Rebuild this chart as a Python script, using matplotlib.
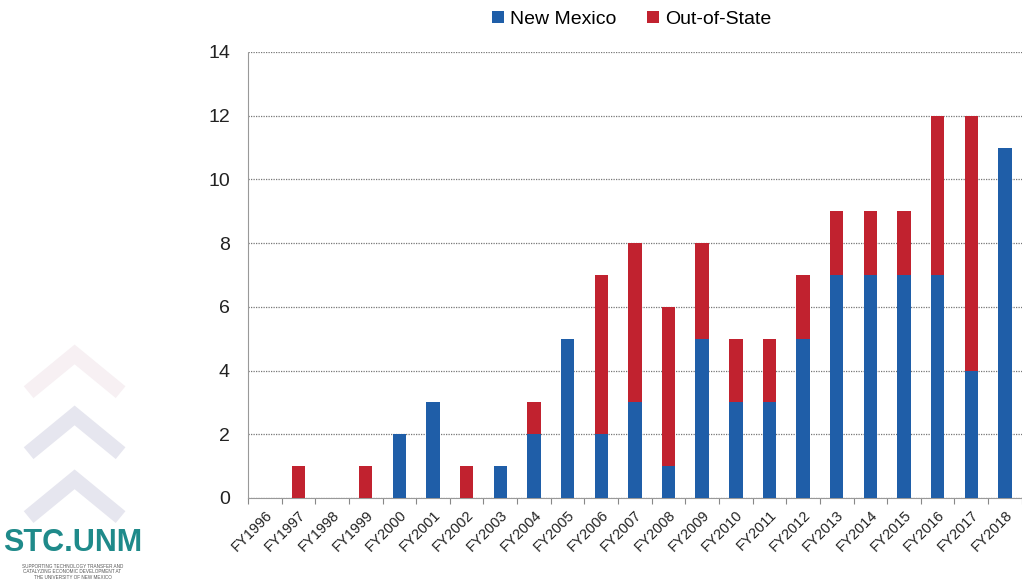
import matplotlib
matplotlib.use("Agg")
import matplotlib.pyplot as plt
import numpy as np

plt.rcParams['font.family'] = ['Liberation Sans', 'DejaVu Sans']

years = ["FY1996", "FY1997", "FY1998", "FY1999", "FY2000", "FY2001", "FY2002",
         "FY2003", "FY2004", "FY2005", "FY2006", "FY2007", "FY2008", "FY2009",
         "FY2010", "FY2011", "FY2012", "FY2013", "FY2014", "FY2015", "FY2016",
         "FY2017", "FY2018"]
new_mexico = [0, 0, 0, 0, 2, 3, 0, 1, 2, 5, 2, 3, 1, 5, 3, 3, 5, 7, 7, 7, 7, 4, 11]
out_of_state = [0, 1, 0, 1, 0, 0, 1, 0, 1, 0, 5, 5, 5, 3, 2, 2, 2, 2, 2, 2, 5, 8, 0]
y_ticks = [0, 2, 4, 6, 8, 10, 12, 14]

blue = "#1f5ea8"
red = "#c1222f"

fig = plt.figure(figsize=(10.22, 5.81), dpi=100)
ax = fig.add_axes([0.2427, 0.1429, 0.757, 0.7676])

x = np.arange(len(years))
ax.bar(x, new_mexico, width=0.4, color=blue, label="New Mexico", zorder=3)
ax.bar(x, out_of_state, width=0.4, bottom=new_mexico, color=red, label="Out-of-State", zorder=3)

ax.set_xlim(-0.5, len(years) - 0.5)
ax.set_ylim(0, 14)
ax.set_yticks(y_ticks)
ax.set_yticklabels([str(t) for t in y_ticks], fontsize=14, color="#222222")
ax.yaxis.grid(True, linestyle=(0, (1, 1)), color="#777777", linewidth=0.9, zorder=0)
ax.tick_params(axis='y', length=0, pad=13)

ax.set_xticks(np.arange(len(years) + 1) - 0.5, minor=True)
ax.set_xticks(x)
ax.set_xticklabels(years, rotation=45, ha='right', rotation_mode='anchor', fontsize=10.5, color="#222222")
ax.tick_params(axis='x', which='major', length=0, pad=7)
ax.tick_params(axis='x', which='minor', length=4, color="#888888", width=0.8)

for s in ['top', 'right']:
    ax.spines[s].set_visible(False)
ax.spines['left'].set_color("#999999")
ax.spines['left'].set_linestyle((0, (1, 1)))
ax.spines['bottom'].set_color("#999999")
ax.spines['bottom'].set_linestyle((0, (1, 1)))

leg = fig.legend(loc='upper center', bbox_to_anchor=(0.618, 1.012), ncol=2, frameon=False,
                 fontsize=14, handlelength=0.6, handleheight=0.6, handletextpad=0.3,
                 columnspacing=1.6)

# Logo decorations
for (cy, col) in [(0.39, "#f7f0f3"), (0.285, "#e6e6ef"), (0.175, "#e6e6ef")]:
    fig.lines.append(plt.Line2D([0.028, 0.073, 0.118], [cy - 0.065, cy, cy - 0.065],
                                transform=fig.transFigure, color=col, linewidth=11,
                                solid_capstyle='butt', solid_joinstyle='miter'))
fig.text(0.071, 0.065, "STC.UNM", fontsize=22, fontweight='bold', color="#1f8a8a",
         ha='center', va='center')
fig.text(0.071, 0.016, "SUPPORTING TECHNOLOGY TRANSFER AND\nCATALYZING ECONOMIC DEVELOPMENT AT\nTHE UNIVERSITY OF NEW MEXICO",
         fontsize=3.3, color="#555555", ha='center', va='center', linespacing=1.1)

fig.savefig("out.png", dpi=100)
